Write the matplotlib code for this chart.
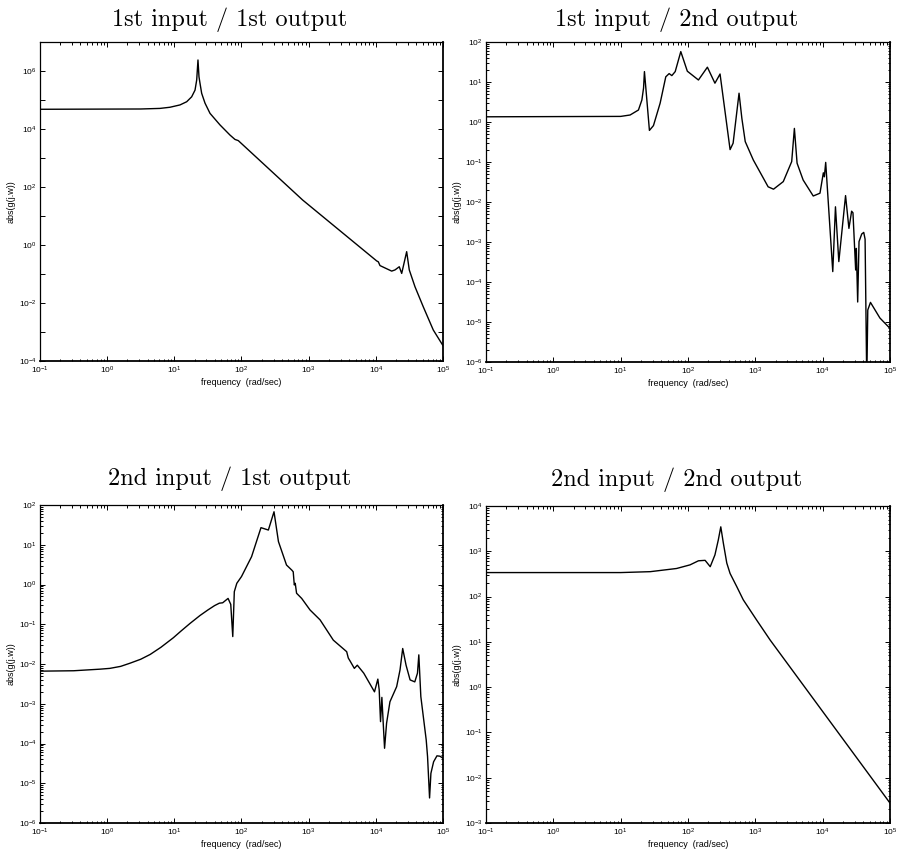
import numpy as np
import matplotlib
matplotlib.use("Agg")
import matplotlib.pyplot as plt
from matplotlib.ticker import FixedLocator, FuncFormatter, LogLocator, NullLocator

plt.rcParams.update({
    "font.family": ["Liberation Sans", "DejaVu Sans"],
    "mathtext.fontset": "custom",
    "mathtext.rm": "Liberation Sans",
    "mathtext.it": "Liberation Sans:italic",
    "mathtext.bf": "Liberation Sans:bold",
    "mathtext.default": "regular",
})

# Frequency response magnitudes, stored as base-10 exponents of
# frequency (rad/sec) and of |g(jw)| for each input/output channel.
freq_exp_11 = [-1.0, 0.5, 0.786, 0.935, 1.084, 1.184, 1.258, 1.308, 1.333, 1.352,
               1.367, 1.382, 1.407, 1.457, 1.531, 1.680, 1.829, 1.903, 1.952, 2.911,
               4.013, 4.037, 4.062, 4.236, 4.285, 4.349, 4.385, 4.459, 4.498, 4.583,
               4.706, 4.855, 5.0]
mag_exp_11 = [4.68, 4.69, 4.71, 4.75, 4.83, 4.94, 5.11, 5.34, 5.69, 6.38,
              5.80, 5.58, 5.23, 4.89, 4.54, 4.14, 3.79, 3.64, 3.60, 1.55,
              -0.55, -0.58, -0.71, -0.90, -0.86, -0.75, -0.98, -0.23, -0.86, -1.44,
              -2.13, -2.93, -3.47]

freq_exp_12 = [-1.0, 1.0, 1.14, 1.264, 1.315, 1.34, 1.353, 1.389, 1.427, 1.487,
               1.586, 1.67, 1.72, 1.76, 1.81, 1.893, 1.99, 2.155, 2.288, 2.40,
               2.476, 2.625, 2.67, 2.758, 2.80, 2.85, 2.97, 3.19, 3.27, 3.415,
               3.54, 3.58, 3.62, 3.71, 3.86, 3.96, 4.01, 4.025, 4.045, 4.15,
               4.19, 4.24, 4.34, 4.39, 4.43, 4.45, 4.49, 4.50, 4.52, 4.54,
               4.58, 4.61, 4.63, 4.655, 4.67, 4.71, 4.85, 5.0]
mag_exp_12 = [0.13, 0.14, 0.175, 0.30, 0.55, 0.85, 1.26, 0.55, -0.21, -0.09,
              0.47, 1.13, 1.21, 1.16, 1.26, 1.76, 1.27, 1.05, 1.37, 0.97,
              1.20, -0.69, -0.53, 0.72, 0.09, -0.49, -0.95, -1.62, -1.68, -1.49,
              -0.99, -0.16, -1.03, -1.45, -1.85, -1.78, -1.27, -1.37, -1.01, -3.74,
              -2.12, -3.49, -1.84, -2.66, -2.23, -2.27, -3.70, -3.16, -4.50, -2.99,
              -2.80, -2.76, -2.93, -6.50, -4.70, -4.51, -4.90, -5.16]

freq_exp_21 = [-1.0, -0.5, -0.107, 0.04, 0.2, 0.34, 0.5, 0.64, 0.8, 0.985,
               1.1, 1.233, 1.382, 1.5, 1.6, 1.67, 1.72, 1.80, 1.84, 1.87,
               1.893, 1.93, 2.00, 2.15, 2.29, 2.40, 2.484, 2.55, 2.67, 2.75,
               2.77, 2.786, 2.80, 2.82, 2.896, 3.02, 3.17, 3.367, 3.566, 3.59,
               3.615, 3.68, 3.724, 3.82, 3.98, 4.03, 4.05, 4.07, 4.09, 4.11,
               4.13, 4.16, 4.21, 4.31, 4.36, 4.40, 4.45, 4.51, 4.58, 4.62,
               4.64, 4.67, 4.75, 4.77, 4.80, 4.82, 4.86, 4.91, 4.955, 5.0]
mag_exp_21 = [-2.18, -2.17, -2.13, -2.11, -2.06, -1.98, -1.88, -1.76, -1.58, -1.34,
              -1.17, -0.98, -0.78, -0.64, -0.53, -0.47, -0.46, -0.35, -0.50, -1.31,
              -0.18, 0.03, 0.20, 0.70, 1.43, 1.37, 1.83, 1.08, 0.49, 0.36,
              0.32, -0.01, 0.03, -0.22, -0.35, -0.64, -0.89, -1.40, -1.69, -1.85,
              -1.92, -2.11, -2.03, -2.23, -2.70, -2.38, -2.65, -3.45, -2.84, -3.49,
              -4.12, -3.49, -2.95, -2.57, -2.15, -1.61, -2.03, -2.40, -2.45, -2.23,
              -1.77, -2.82, -3.91, -4.33, -5.37, -4.75, -4.46, -4.31, -4.32, -4.37]

freq_exp_22 = [-1.0, 1.0, 1.44, 1.83, 2.03, 2.155, 2.254, 2.33, 2.40, 2.45,
               2.487, 2.525, 2.576, 2.625, 2.724, 2.82, 3.02, 3.22, 5.0]
mag_exp_22 = [2.53, 2.53, 2.55, 2.62, 2.70, 2.79, 2.80, 2.66, 2.92, 3.25,
              3.54, 3.18, 2.74, 2.51, 2.22, 1.93, 1.48, 1.04, -2.56]

titles = ["1st input / 1st output", "1st input / 2nd output",
          "2nd input / 1st output", "2nd input / 2nd output"]
y_decades = [(-4, 7), (-6, 2), (-6, 2), (-3, 4)]
x_decades = (-1, 5)
x_label = "frequency  (rad/sec)"
y_label = "abs(g(j.w))"

series = [(freq_exp_11, mag_exp_11), (freq_exp_12, mag_exp_12),
          (freq_exp_21, mag_exp_21), (freq_exp_22, mag_exp_22)]

W, H = 901, 855
fig = plt.figure(figsize=(W / 100, H / 100), dpi=100)

# axes boxes in pixels: left, top, right, bottom
boxes = [(40, 42, 443, 361), (486, 42, 890, 362),
         (40, 505, 443, 823), (486, 506, 890, 823)]
title_gap = [16, 16, 20, 20]


def pow_label(v, pos, every=1):
    e = int(round(np.log10(v)))
    if e % every:
        return ""
    return r"$10^{%d}$" % e


for i, (ax_box, (fx, my)) in enumerate(zip(boxes, series)):
    l, t, r, b = ax_box
    ax = fig.add_axes([l / W, 1 - b / H, (r - l) / W, (b - t) / H])
    f = np.power(10.0, fx)
    m = np.power(10.0, my)
    ax.plot(f, m, color="black", lw=1.0)
    ax.set_xscale("log")
    ax.set_yscale("log")
    ax.set_xlim(10.0 ** x_decades[0], 10.0 ** x_decades[1])
    y0, y1 = y_decades[i]
    ax.set_ylim(10.0 ** y0, 10.0 ** y1)

    ax.xaxis.set_major_locator(FixedLocator(10.0 ** np.arange(x_decades[0], x_decades[1] + 1)))
    ax.xaxis.set_minor_locator(LogLocator(base=10, subs=np.arange(2, 10), numticks=50))
    ax.xaxis.set_major_formatter(FuncFormatter(pow_label))

    ax.yaxis.set_major_locator(FixedLocator(10.0 ** np.arange(y0, y1 + 1)))
    if i == 0:
        ax.yaxis.set_minor_locator(NullLocator())
        ax.yaxis.set_major_formatter(FuncFormatter(lambda v, p: pow_label(v, p, every=2)))
    else:
        ax.yaxis.set_minor_locator(LogLocator(base=10, subs=np.arange(2, 10), numticks=50))
        ax.yaxis.set_major_formatter(FuncFormatter(pow_label))

    ax.tick_params(which="both", direction="in", top=True, right=True,
                   labelsize=6, width=0.7, pad=2.5)
    ax.tick_params(which="major", length=3.5)
    ax.tick_params(which="minor", length=1.8)
    for side, s in ax.spines.items():
        s.set_linewidth(1.3 if side in ("bottom", "right") else 0.9)

    ax.set_xlabel(x_label, fontsize=6.5, labelpad=1.5)
    ax.set_ylabel(y_label, fontsize=6.5, labelpad=2.5)
    ax.text(0.471, 1 + title_gap[i] / (b - t), titles[i], transform=ax.transAxes,
            ha="center", va="baseline", fontsize=17.5, family="cmr10")

fig.savefig("out.png", dpi=100)
